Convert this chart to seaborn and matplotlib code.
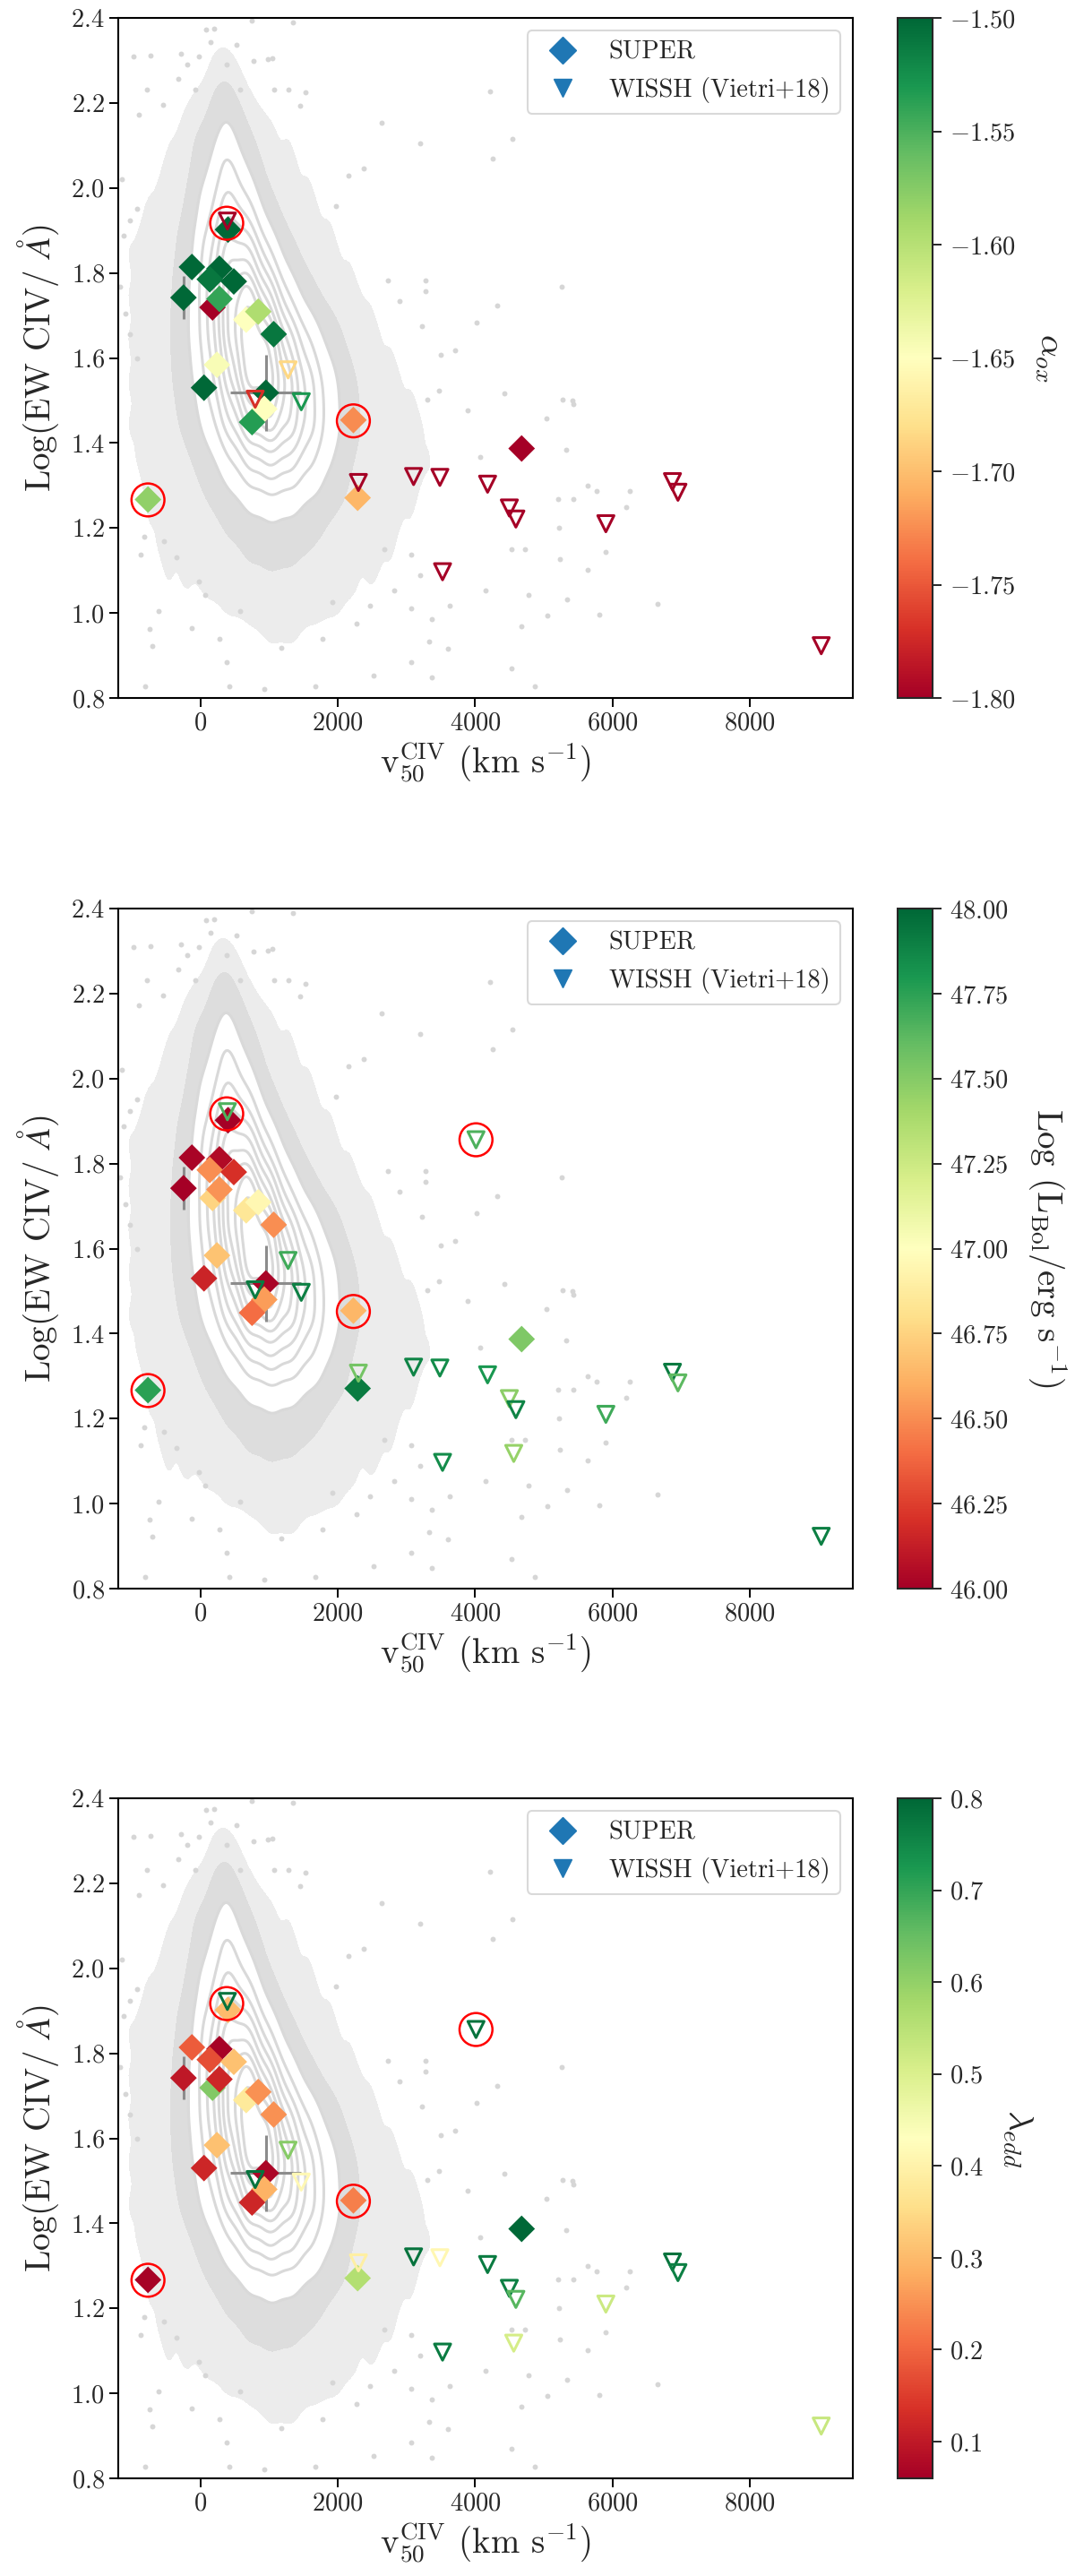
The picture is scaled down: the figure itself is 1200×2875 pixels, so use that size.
import matplotlib
matplotlib.use("Agg")
import matplotlib.pyplot as plt
from matplotlib.colors import ListedColormap
from matplotlib.lines import Line2D
import numpy as np
import pandas as pd
import seaborn as sns

# ---- SUPER sample (diamonds) ----
super_v50 = [399, -127, 274, 133, 483, -250, 173, 274, 664, 839,
             1064, 238, 49, 950, 927, 749, 2225, -767, 2287, 4676]
super_ew = [1.902, 1.814, 1.810, 1.785, 1.780, 1.742, 1.719, 1.739, 1.690, 1.709,
            1.656, 1.584, 1.530, 1.518, 1.480, 1.449, 1.454, 1.267, 1.271, 1.387]
super_aox = [-1.50, -1.49, -1.50, -1.51, -1.50, -1.50, -1.82, -1.54, -1.65, -1.595,
             -1.51, -1.645, -1.50, -1.50, -1.65, -1.535, -1.725, -1.58, -1.705, -1.80]
super_lbol = [46.00, 46.02, 46.05, 46.50, 46.20, 46.00, 46.75, 46.52, 46.85, 46.95,
              46.50, 46.68, 46.15, 46.02, 46.55, 46.40, 46.64, 47.75, 47.92, 47.52]
super_ledd = [0.30, 0.19, 0.065, 0.17, 0.31, 0.10, 0.62, 0.12, 0.38, 0.25,
              0.25, 0.31, 0.12, 0.07, 0.29, 0.12, 0.23, 0.065, 0.56, 0.80]
super_xerr = [0, 0, 0, 0, 0, 0, 0, 0, 0, 0, 0, 0, 0, 515, 0, 0, 0, 0, 0, 0]
super_yerr = [0, 0, 0, 0, 0, 0.05, 0, 0, 0, 0, 0, 0, 0, 0.09, 0, 0, 0, 0, 0, 0]

# ---- WISSH (Vietri+18) (open triangles) ----
wissh_v50 = [390, 1274, 1466, 795, 2298, 3102, 3485, 4180, 4497, 4592,
             3524, 5903, 6873, 6953, 9040, 4561, 4011]
wissh_ew = [1.922, 1.572, 1.497, 1.503, 1.307, 1.321, 1.319, 1.303, 1.247, 1.221,
            1.097, 1.210, 1.309, 1.284, 0.923, 1.118, 1.856]
wissh_aox = [-1.80, -1.685, -1.53, -1.77, -1.80, -1.80, -1.80, -1.80, -1.80, -1.80,
             -1.80, -1.80, -1.80, -1.80, -1.80, np.nan, np.nan]
wissh_lbol = [47.66, 47.70, 47.90, 47.92, 47.55, 47.88, 47.85, 47.80, 47.48, 47.88,
              47.85, 47.70, 47.92, 47.62, 47.90, 47.45, 47.66]
wissh_ledd = [0.78, 0.615, 0.415, 0.78, 0.39, 0.78, 0.41, 0.77, 0.76, 0.665,
              0.77, 0.525, 0.78, 0.76, 0.53, 0.51, 0.78]

# ---- highlighted sources (red circles) ----
circle_v50 = [380, 2225, -767, 4011]
circle_ew = [1.917, 1.452, 1.266, 1.856]
circle_has_aox = [True, True, True, False]

# ---- SDSS comparison sample: binned density (counts per 300 km/s x 0.1 dex cell) ----
dens_v50 = [-1100, -800, -500, -200, 100, 400, 700, 1000,
            1300, 1600, 1900, 2200, 2500, 2800, 3100, 3400]
dens_ew = [2.35, 2.25, 2.15, 2.05, 1.95, 1.85, 1.75, 1.65,
           1.55, 1.45, 1.35, 1.25, 1.15, 1.05, 0.95, 0.85]
dens_counts = [
    [0, 0, 0, 0, 1, 1, 1, 0, 0, 0, 0, 0, 0, 0, 0, 0],
    [0, 0, 0, 1, 1, 5, 1, 1, 0, 0, 0, 0, 0, 0, 0, 0],
    [0, 0, 2, 2, 5, 28, 4, 2, 2, 0, 0, 0, 0, 0, 0, 0],
    [0, 2, 2, 2, 19, 71, 19, 2, 2, 2, 0, 0, 0, 0, 0, 0],
    [2, 2, 2, 5, 40, 110, 66, 10, 2, 2, 2, 0, 0, 0, 0, 0],
    [2, 2, 2, 11, 67, 166, 155, 54, 9, 2, 2, 2, 0, 0, 0, 0],
    [2, 2, 3, 17, 84, 208, 253, 148, 45, 9, 2, 2, 2, 0, 0, 0],
    [2, 2, 4, 19, 79, 201, 298, 252, 125, 50, 14, 3, 2, 2, 0, 0],
    [2, 2, 4, 15, 61, 163, 272, 281, 185, 95, 35, 8, 2, 2, 2, 0],
    [2, 2, 3, 10, 38, 108, 198, 231, 175, 100, 40, 10, 3, 2, 2, 2],
    [2, 2, 2, 4, 14, 43, 89, 113, 92, 55, 22, 5, 2, 2, 2, 2],
    [0, 2, 2, 2, 5, 12, 25, 33, 27, 14, 6, 3, 2, 2, 2, 2],
    [0, 2, 2, 2, 3, 4, 7, 8, 7, 5, 3, 2, 2, 2, 2, 0],
    [0, 0, 2, 2, 2, 3, 4, 5, 5, 4, 3, 2, 2, 2, 0, 0],
    [0, 0, 1, 1, 1, 1, 1, 2, 2, 1, 1, 1, 1, 0, 0, 0],
    [0, 0, 0, 1, 1, 1, 1, 1, 1, 1, 1, 1, 0, 0, 0, 0],
]

# sparse SDSS sources outside the dense cloud
cloud_v50 = [-977, -727, -287, -26, 74, 199, 149, 374, 524, 774, 974, 1049, 749, 1350,
             -201, -552, -777, -902, -326, -76, 574, 1074, 1275, 1525, 1450,
             2640, 4211, 4536, 3201, 4251, 2375, 2150, 1975, 2725, 3276, 3276, 2900,
             4316, 4026, 3226, 3501, 3701, 4426, 3476, 3301, -1177, -1102, -1027,
             -927, -1127, -1027, -927, -1152, 5265, 5412,
             5273, 5424, 5043, 3883, 5321, 4073, 5643, 5772, 6253, 6193, 5424, 5203,
             5224, 5893, 5643, 5233, 4723, 4523, 4153, 4771, 5343, 5053, 5804, 6653,
             4673, 3373, 3623, 3073, 3323, 3603, 4523, 3373, 4873, 3073, 2523, 1673,
             923, 423, -806, -706, -748, -608, -878, -827, -528, -348, -28, 72, 573,
             -128, 273, 373, 1173, 1773, 2273, 1923, 2473, 2823, 3193, 3073, 2673]
cloud_ew = [2.309, 2.312, 2.316, 2.309, 2.372, 2.375, 2.344, 2.291, 2.337, 2.298, 2.302,
            2.305, 2.393, 2.389, 2.291, 2.196, 2.231, 2.172, 2.256, 2.231, 2.231, 2.231,
            2.231, 2.224, 2.193, 2.154, 2.228, 2.116, 2.105, 2.070, 2.046, 2.028, 1.958,
            1.782, 1.782, 1.758, 1.733, 1.723, 1.684, 1.674, 1.607, 1.617, 1.516, 1.523,
            1.502, 1.768, 1.705, 1.656, 1.600, 1.888, 1.923, 1.951, 2.021, 1.768, 1.500,
            1.502, 1.491, 1.457, 1.476, 1.383, 1.368, 1.300, 1.288, 1.286, 1.249, 1.268,
            1.269, 1.200, 1.144, 1.102, 1.126, 1.151, 1.151, 1.053, 1.042, 1.032, 0.993,
            0.997, 1.021, 0.968, 0.986, 1.017, 1.011, 0.933, 0.916, 0.870, 0.849, 0.828,
            0.884, 0.853, 0.828, 0.821, 0.828, 0.828, 0.923, 0.962, 1.004, 1.137, 1.179,
            1.168, 1.131, 1.074, 1.042, 1.004, 0.965, 0.940, 0.884, 0.919, 0.940, 0.975,
            1.025, 1.017, 1.053, 1.088, 1.137, 1.151]

super_df = pd.DataFrame({"v50": super_v50, "ew": super_ew, "aox": super_aox,
                         "lbol": super_lbol, "ledd": super_ledd,
                         "xerr": super_xerr, "yerr": super_yerr})
wissh_df = pd.DataFrame({"v50": wissh_v50, "ew": wissh_ew, "aox": wissh_aox,
                         "lbol": wissh_lbol, "ledd": wissh_ledd})
circle_df = pd.DataFrame({"v50": circle_v50, "ew": circle_ew, "has_aox": circle_has_aox})
gx, gy = np.meshgrid(dens_v50, dens_ew)
dens_df = pd.DataFrame({"v50": gx.ravel(), "ew": gy.ravel(),
                        "w": np.array(dens_counts, dtype=float).ravel()})
dens_df = dens_df[dens_df["w"] > 0]

sns.set_style("ticks")
plt.rcParams["font.family"] = ["cmr10", "DejaVu Serif"]
plt.rcParams["mathtext.fontset"] = "cm"
plt.rcParams["axes.formatter.use_mathtext"] = True
plt.rcParams["axes.unicode_minus"] = True

TICK_FS = 20.5
LABEL_FS = 28
CMAP = "RdYlGn"
BW = 0.5
THRESH = 0.11
KDE = dict(data=dens_df, x="v50", y="ew", weights="w", bw_adjust=BW, gridsize=250)

# (low, high iso-proportion, colour, zorder) for the cloud bands
cloud_bands = [(0.015, 0.05, "#ececec", 0.5),
               (0.05, THRESH, "#dddddd", 0.6),
               (THRESH, 1.0, "white", 1.5)]

panels = [
    ("aox", -1.80, -1.50, np.arange(-1.80, -1.49, 0.05), r"$\alpha_{ox}$", 0.72904),
    ("lbol", 46.0, 48.0, np.arange(46.0, 48.01, 0.25), r"Log (L$_{\rm Bol}$/erg s$^{-1}$)", 0.38330),
    ("ledd", 0.06, 0.80, np.arange(0.1, 0.81, 0.1), r"$\lambda_{edd}$", 0.03791),
]

fig = plt.figure(figsize=(12, 28.75), dpi=100)

for col, vmin, vmax, cticks, clabel, bottom in panels:
    ax = fig.add_axes([0.11, bottom, 0.6833, 0.264])
    cax = fig.add_axes([0.835, bottom, 0.0325, 0.264])

    # SDSS cloud: halo, sparse sources, white-filled density contours
    for lo, hi, c, z in cloud_bands:
        sns.kdeplot(**KDE, fill=True, levels=[lo, hi], cmap=ListedColormap([c]),
                    ax=ax, zorder=z)
    sns.scatterplot(x=cloud_v50, y=cloud_ew, color="#d6d6d6", s=18, linewidth=0,
                    ax=ax, zorder=1)
    sns.kdeplot(**KDE, levels=10, thresh=THRESH, color="#d9d9d9", linewidths=2.2,
                ax=ax, zorder=1.6)

    # error bars
    ax.errorbar(super_df["v50"], super_df["ew"], xerr=super_df["xerr"], yerr=super_df["yerr"],
                fmt="none", ecolor="#8c8c8c", elinewidth=2.2, capsize=0, zorder=2)

    sup = super_df.dropna(subset=[col])
    sns.scatterplot(data=sup, x="v50", y="ew", hue=col, palette=CMAP, hue_norm=(vmin, vmax),
                    marker="D", s=230, linewidth=0, edgecolor="none", legend=False,
                    ax=ax, zorder=3)

    wis = wissh_df.dropna(subset=[col])
    sns.scatterplot(data=wis, x="v50", y="ew", hue=col, palette=CMAP, hue_norm=(vmin, vmax),
                    marker="v", s=170, legend=False, ax=ax, zorder=4)
    tri = ax.collections[-1]
    tri.set_edgecolors(tri.get_facecolors())
    tri.set_facecolors("none")
    tri.set_linewidths(2.2)

    circ = circle_df if col != "aox" else circle_df[circle_df["has_aox"]]
    ax.scatter(circ["v50"], circ["ew"], s=700, facecolors="none", edgecolors="red",
               linewidths=1.8, zorder=5)

    ax.set_xlim(-1200, 9500)
    ax.set_ylim(0.8, 2.4)
    ax.set_xticks([0, 2000, 4000, 6000, 8000])
    ax.set_yticks(np.arange(0.8, 2.41, 0.2))
    ax.set_xlabel(r"v$_{50}^{\rm CIV}$ (km s$^{-1}$)", fontsize=LABEL_FS, labelpad=4)
    ax.set_ylabel(r"Log(EW CIV/ $\AA$)", fontsize=LABEL_FS, labelpad=8)
    ax.tick_params(axis="both", which="major", labelsize=TICK_FS, length=7.5, width=1.4,
                   direction="out", color="black")
    for sp in ax.spines.values():
        sp.set_linewidth(1.5)
        sp.set_color("black")

    handles = [Line2D([], [], marker="D", color="#1f77b4", linestyle="none", markersize=15),
               Line2D([], [], marker="v", color="#1f77b4", linestyle="none", markersize=15)]
    leg = ax.legend(handles, ["SUPER", "WISSH (Vietri+18)"], loc="upper right",
                    fontsize=TICK_FS, frameon=True, borderaxespad=0.5)
    leg.get_frame().set_linewidth(1.5)
    leg.get_frame().set_edgecolor("#d0d0d0")
    leg.set_zorder(10)

    sm = plt.cm.ScalarMappable(norm=plt.Normalize(vmin, vmax), cmap=CMAP)
    cb = fig.colorbar(sm, cax=cax)
    cb.set_ticks(cticks)
    cb.ax.tick_params(labelsize=TICK_FS, length=7.5, width=1.4, pad=6)
    cb.outline.set_linewidth(1.5)
    cb.set_label(clabel, fontsize=LABEL_FS, rotation=270, va="bottom", labelpad=14)

fig.savefig("out.png", dpi=100)
